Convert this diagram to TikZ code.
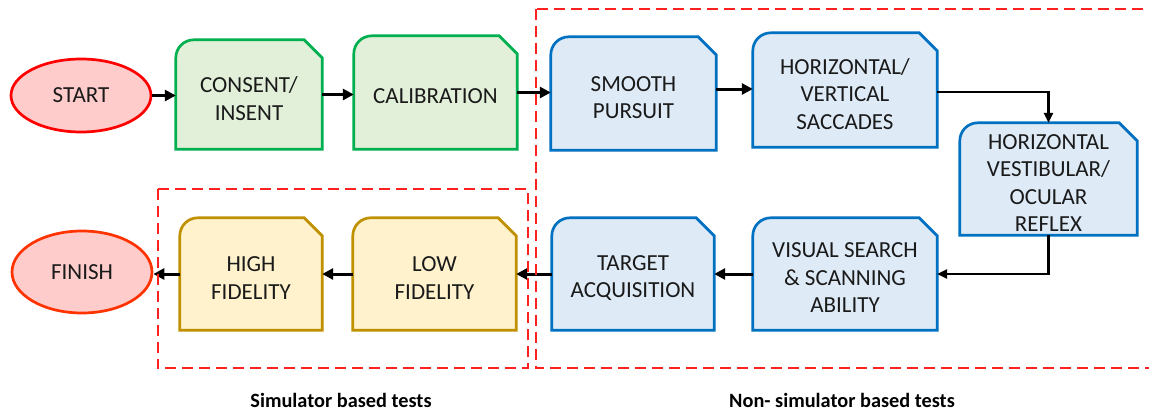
\documentclass[tikz,border=0pt]{standalone}
\usepackage{fontspec}
\setmainfont{Carlito}
\usetikzlibrary{arrows.meta,backgrounds,shapes.geometric}
\definecolor{grnD}{HTML}{00B050}
\definecolor{grnF}{HTML}{E2F0D9}
\definecolor{bluD}{HTML}{0070C0}
\definecolor{bluF}{HTML}{DEEBF7}
\definecolor{gldD}{HTML}{BF9000}
\definecolor{gldF}{HTML}{FFF2CC}
\definecolor{redF}{HTML}{FFCCCC}
\definecolor{redS}{HTML}{FF0000}
\definecolor{redT}{HTML}{FF3300}
\definecolor{dashR}{HTML}{FF2020}
\definecolor{txt}{HTML}{1A1A1A}
\newcommand\snipbox[2]{%
  \begin{scope}[on background layer]
  \draw[#2] (#1.south west) -- ([yshift=-18pt]#1.north west)
    arc[start angle=180,end angle=90,radius=18pt]
    -- ([xshift=-18pt]#1.north east) -- ([yshift=-18pt]#1.north east)
    -- (#1.south east) -- cycle;
  \end{scope}}
% name, x, y, width, height, text
\newcommand\boxnode[6]{%
  \node[box, minimum width=#4pt, minimum height=#5pt] (#1) at (#2,#3) {};
  \node[boxtext] (#1-t) at ([yshift=-4pt]#1.center) {#6};}
\tikzset{
  box/.style={inner sep=0pt},
  boxtext/.style={inner sep=0pt, align=center, text=txt,
    font=\fontsize{23}{27.5}\selectfont},
  grnbox/.style={line width=2.7pt, draw=grnD, fill=grnF, line join=miter},
  blubox/.style={line width=2.7pt, draw=bluD, fill=bluF, line join=miter},
  gldbox/.style={line width=2.7pt, draw=gldD, fill=gldF, line join=miter},
  term/.style={ellipse, inner sep=0pt, line width=2.7pt, fill=redF, text=txt,
    font=\fontsize{23}{28}\selectfont},
  arr/.style={line width=3pt, -{Triangle[length=11pt,width=11pt]}},
  arrthin/.style={line width=2.5pt, -{Triangle[length=10pt,width=9pt]}},
  grp/.style={draw=dashR, line width=2pt, dash pattern=on 11pt off 6pt},
  caplabel/.style={font=\fontsize{20.3}{24}\selectfont\bfseries, text=black}
}
\begin{document}
\begin{tikzpicture}[x=1pt,y=-1pt]
\useasboundingbox (0,0) rectangle (1149,410);
% terminals
\node[term, draw=redS, minimum width=140pt, minimum height=73pt] (start) at (81,95.5) {START};
\node[term, draw=redT, minimum width=140pt, minimum height=82pt] (finish) at (82,272) {FINISH};
% boxes
\boxnode{consent}{249}{94.5}{146}{109}{CONSENT/\\INSENT}
\boxnode{calib}{435.5}{92.5}{163}{113}{CALIBRATION}
\boxnode{smooth}{633.5}{93.5}{165}{113}{SMOOTH\\PURSUIT}
\boxnode{hv}{845}{90}{184}{114}{HORIZONTAL/\\VERTICAL\\SACCADES}
\boxnode{hvor}{1048.5}{179}{177}{112}{HORIZONTAL\\VESTIBULAR/\\OCULAR\\REFLEX}
\boxnode{vs}{845}{274}{184}{112}{VISUAL SEARCH\\\& SCANNING\\ABILITY}
\boxnode{target}{633}{274}{162}{112}{TARGET\\ACQUISITION}
\boxnode{low}{434.5}{274}{163}{112}{LOW\\FIDELITY}
\boxnode{high}{251}{274}{142}{112}{HIGH\\FIDELITY}
\snipbox{consent}{grnbox}
\snipbox{calib}{grnbox}
\snipbox{smooth}{blubox}
\snipbox{hv}{blubox}
\snipbox{hvor}{blubox}
\snipbox{vs}{blubox}
\snipbox{target}{blubox}
\snipbox{low}{gldbox}
\snipbox{high}{gldbox}
% connectors
\draw[arr] (start.east) -- (start.east -| consent.west);
\draw[arr] (consent.east) -- (consent.east -| calib.west);
\draw[arr] (calib.east) -- (calib.east -| smooth.west);
\draw[arr] ([yshift=4.5pt]smooth.east) -- ([yshift=4.5pt]smooth.east -| hv.west);
\draw[arrthin] ([yshift=-2pt]hv.east) -| (hvor.north);
\draw[arrthin] (hvor.south) |- (vs.east);
\draw[arr] (vs.west) -- (target.east);
\draw[arr] (target.west) -- (low.east);
\draw[arr] (low.west) -- (high.east);
\draw[arr] (high.west) -- (high.west -| finish.east);
% groups
\node[inner sep=0pt, minimum width=370pt, minimum height=179pt] (simgrp) at (343,278.5) {};
\draw[grp] (simgrp.north west) rectangle (simgrp.south east);
\node[inner sep=0pt, minimum width=624pt, minimum height=359pt] (nongrp) at (848,188.5) {};
\draw[grp] (nongrp.north west) rectangle (nongrp.south east);
\node[caplabel] (simlab) at (341,400) {Simulator based tests};
\node[caplabel] (nonlab) at (842,400) {Non- simulator based tests};
\end{tikzpicture}
\end{document}
